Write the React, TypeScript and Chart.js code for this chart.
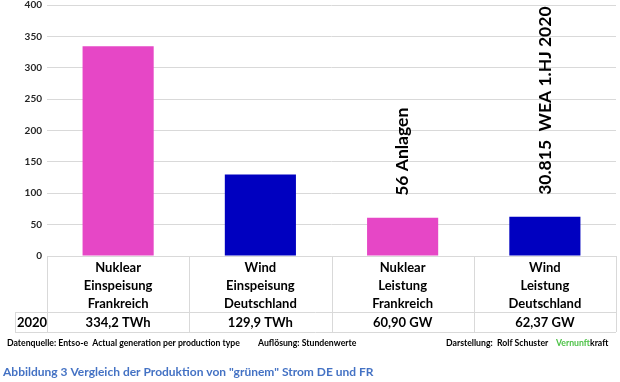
import React, { useEffect, useRef } from "react";
import { Chart, registerables } from "chart.js";

Chart.register(...registerables);

const categories = ["Nuklear Einspeisung Frankreich", "Wind Einspeisung Deutschland", "Nuklear Leistung Frankreich", "Wind Leistung Deutschland"];
const categoryLines = [
  ["Nuklear", "Einspeisung", "Frankreich"],
  ["Wind", "Einspeisung", "Deutschland"],
  ["Nuklear", "Leistung", "Frankreich"],
  ["Wind", "Leistung", "Deutschland"],
];
const values2020 = [334.2, 129.9, 60.9, 62.37];
const rowLabel = "2020";
const tableValues = ["334,2 TWh", "129,9 TWh", "60,90 GW", "62,37 GW"];
const barColors = ["#E647C6", "#0000C0", "#E647C6", "#0000C0"];
const annotations = ["", "", "56 Anlagen", "30.815  WEA 1.HJ 2020"];
const yTicks = [0, 50, 100, 150, 200, 250, 300, 350, 400];
const sourceText = "Datenquelle: Entso-e  Actual generation per production type";
const resolutionText = "Auflösung: Stundenwerte";
const authorText = "Darstellung:  Rolf Schuster";
const brandGreen = "Vernunft";
const brandBlack = "kraft";
const captionText = 'Abbildung 3 Vergleich der Produktion von "grünem" Strom DE und FR';

const FONT = "Lato, 'Open Sans', sans-serif";

const overlayPlugin = {
  id: "overlay",
  afterDatasetsDraw(chart: any) {
    const ctx = chart.ctx;
    const area = chart.chartArea;
    const xs = chart.scales.x;
    const ys = chart.scales.y;
    const n = categories.length;
    const step = (area.right - area.left) / n;
    const top = ys.getPixelForValue(0);
    const headerBottom = top + 56;
    const rowBottom = headerBottom + 20;
    const leftCol = 15;

    ctx.save();
    // annotations (rotated)
    ctx.fillStyle = "#000";
    ctx.font = `bold 17.5px ${FONT}`;
    ctx.textAlign = "left";
    ctx.textBaseline = "middle";
    annotations.forEach((t, i) => {
      if (!t) return;
      const x = xs.getPixelForValue(i);
      const yTop = ys.getPixelForValue(values2020[i]);
      ctx.save();
      ctx.translate(x, yTop - 22);
      ctx.rotate(-Math.PI / 2);
      ctx.fillText(t, 0, 0);
      ctx.restore();
    });

    // table lines
    ctx.strokeStyle = "#d9d9d9";
    ctx.lineWidth = 1;
    const hl = (x1: number, x2: number, y: number) => {
      ctx.beginPath();
      ctx.moveTo(x1, Math.round(y) + 0.5);
      ctx.lineTo(x2, Math.round(y) + 0.5);
      ctx.stroke();
    };
    const vl = (x: number, y1: number, y2: number) => {
      ctx.beginPath();
      ctx.moveTo(Math.round(x) + 0.5, y1);
      ctx.lineTo(Math.round(x) + 0.5, y2);
      ctx.stroke();
    };
    hl(area.left, area.right, top);
    hl(leftCol, area.right, headerBottom);
    hl(leftCol, area.right, rowBottom);
    vl(leftCol, headerBottom, rowBottom);
    for (let i = 0; i <= n; i++) {
      vl(area.left + step * i, top, rowBottom);
    }

    // table text
    ctx.fillStyle = "#000";
    ctx.font = `bold 13px ${FONT}`;
    ctx.textAlign = "center";
    ctx.textBaseline = "middle";
    categoryLines.forEach((lines, i) => {
      const cx = xs.getPixelForValue(i);
      lines.forEach((l, j) => {
        ctx.fillText(l, cx, top + 12 + j * 18);
      });
      ctx.fillText(tableValues[i], cx, (headerBottom + rowBottom) / 2 + 1);
    });
    ctx.fillText(rowLabel, (leftCol + area.left) / 2 + 1, (headerBottom + rowBottom) / 2 + 1);

    // footer
    const fy = 343;
    ctx.font = `bold 8.7px ${FONT}`;
    ctx.textAlign = "left";
    ctx.fillStyle = "#000";
    ctx.fillText(sourceText, 7, fy);
    ctx.fillText(resolutionText, 258, fy);
    ctx.fillText(authorText, 446, fy);
    ctx.fillStyle = "#4DC247";
    ctx.fillText(brandGreen, 556, fy);
    const gw = ctx.measureText(brandGreen).width;
    ctx.fillStyle = "#000";
    ctx.fillText(brandBlack, 556 + gw, fy);

    // caption
    ctx.font = `bold 12px ${FONT}`;
    ctx.fillStyle = "#4472C4";
    ctx.fillText(captionText, 3, 372);
    ctx.restore();
  },
};

export default function App() {
  const ref = useRef<HTMLCanvasElement | null>(null);
  useEffect(() => {
    document.body.style.margin = "0";
    const canvas = ref.current;
    if (!canvas) return;
    const chart = new Chart(canvas, {
      type: "bar",
      data: {
        labels: categories,
        datasets: [
          {
            label: rowLabel,
            data: values2020,
            backgroundColor: barColors,
            borderWidth: 0,
            categoryPercentage: 1,
            barPercentage: 0.5,
          },
        ],
      },
      options: {
        responsive: false,
        animation: false,
        devicePixelRatio: 1,
        layout: { padding: { top: 5, right: 4, bottom: 126, left: 0 } },
        plugins: { legend: { display: false }, tooltip: { enabled: false } },
        scales: {
          x: { display: false },
          y: {
            min: 0,
            max: 400,
            afterBuildTicks: (scale: any) => {
              scale.ticks = yTicks.map((v) => ({ value: v }));
            },
            afterFit: (scale: any) => {
              scale.width = 47;
              scale.paddingTop = 0;
              scale.paddingBottom = 0;
            },
            border: { display: false },
            grid: { color: "#d9d9d9", drawTicks: false, lineWidth: 1 },
            ticks: {
              padding: 5,
              color: "#262626",
              font: { family: FONT, size: 10, weight: "bold" },
            },
          },
        },
      },
      plugins: [overlayPlugin],
    });
    return () => chart.destroy();
  }, []);
  return (
    <div style={{ width: 620, height: 382, background: "#fff" }}>
      <canvas ref={ref} width={620} height={382} />
    </div>
  );
}
